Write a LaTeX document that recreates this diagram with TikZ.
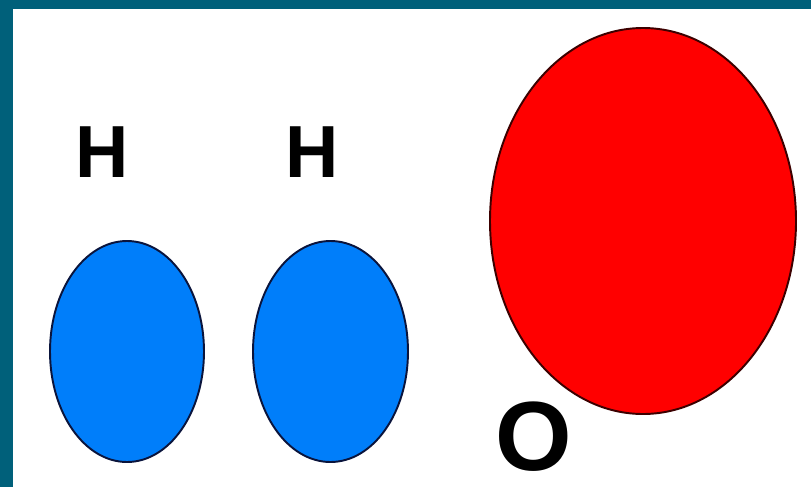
\documentclass[tikz,border=0pt]{standalone}
\usepackage{fontspec}
\setmainfont{Liberation Sans}
\definecolor{frameteal}{RGB}{0,96,122}
\definecolor{hblue}{RGB}{0,126,250}
\definecolor{hedge}{RGB}{10,20,60}
\definecolor{ored}{RGB}{255,0,0}
\definecolor{oedge}{RGB}{60,0,0}
\usetikzlibrary{positioning}

\begin{document}
\begin{tikzpicture}[x=0.02cm,y=-0.02cm,
  hatom/.style={fill=hblue,draw=hedge,line width=1.1pt},
  oatom/.style={fill=ored,draw=oedge,line width=1.1pt},
  hlabel/.style={font=\bfseries\fontsize{42}{42}\selectfont,inner sep=0pt},
  olabel/.style={font=\bfseries\fontsize{56}{56}\selectfont,inner sep=0pt,text depth=0pt}]
\useasboundingbox (0,0) rectangle (811,487);
\fill[white] (0,0) rectangle (811,487);
% frame
\fill[frameteal] (0,0) rectangle (811,9);
\fill[frameteal] (0,0) rectangle (13,487);
% atoms
\draw[hatom] (127,351.5) ellipse [x radius=77, y radius=110.5];
\draw[hatom] (330.5,351.5) ellipse [x radius=77.5, y radius=110.5];
\draw[oatom] (643,221) ellipse [x radius=153, y radius=193];
% labels
\node[hlabel] (h1) at (102.5,152.5) {H};
\node[hlabel] (h2) at (312.5,152.5) {H};
\node[olabel] (o) at (534,436.5) {O};
\end{tikzpicture}
\end{document}
